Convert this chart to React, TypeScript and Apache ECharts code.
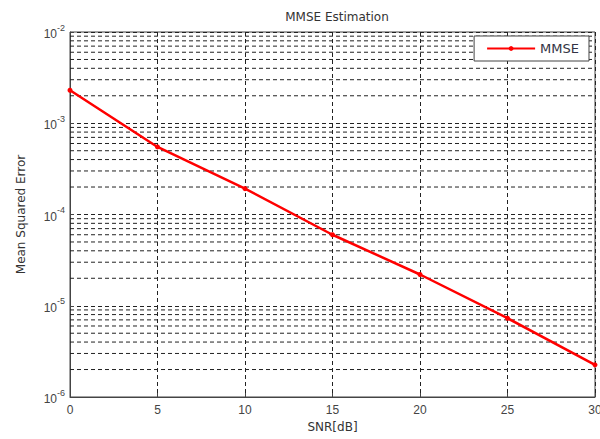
import React, { useEffect, useRef } from "react";
import * as echarts from "echarts";

const snrDb = [0, 5, 10, 15, 20, 25, 30];
const mmseValues = [2.3e-3, 5.5e-4, 1.92e-4, 6.0e-5, 2.2e-5, 7.3e-6, 2.25e-6];
const xTicks = [0, 5, 10, 15, 20, 25, 30];
const decades = [-6, -5, -4, -3];
const minorMultipliers = [2, 3, 4, 5, 6, 7, 8, 9];

const titleText = "MMSE Estimation";
const xName = "SNR[dB]";
const yName = "Mean Squared Error";
const seriesName = "MMSE";

export default function App() {
  const ref = useRef<HTMLDivElement>(null);
  useEffect(() => {
    if (!ref.current) return;
    const chart = echarts.init(ref.current, undefined, { renderer: "svg" });
    const minorValues: number[] = [];
    decades.forEach((d) => {
      minorMultipliers.forEach((m) => {
        minorValues.push(m * Math.pow(10, d));
      });
    });
    const gridDash = { color: "#222", width: 1, type: [4, 3] as any };
    const textFont = "DejaVu Sans";
    const minorSeries = minorValues.map((v, i) => ({
      name: "minor" + i,
      type: "line",
      data: [
        [xTicks[0], v],
        [xTicks[xTicks.length - 1], v],
      ],
      symbol: "none",
      silent: true,
      lineStyle: { color: "#222", width: 1, type: [4, 3] as any },
      z: 1,
      tooltip: { show: false },
    }));
    chart.setOption({
      animation: false,
      backgroundColor: "#fff",
      title: {
        text: titleText,
        left: 332,
        top: 6,
        textAlign: "center",
        textStyle: { fontFamily: textFont, fontSize: 12, fontWeight: "normal", color: "#333" },
      },
      legend: {
        right: 11,
        top: 36,
        orient: "horizontal",
        data: [seriesName],
        itemWidth: 48,
        itemHeight: 6,
        itemGap: 10,
        padding: [6, 10, 6, 12],
        borderColor: "#444",
        borderWidth: 1,
        backgroundColor: "#fff",
        textStyle: { fontFamily: textFont, fontSize: 13, color: "#334" },
      },
      grid: {
        left: 70,
        right: 5,
        top: 32,
        bottom: 42,
        show: true,
        borderColor: "#444",
        borderWidth: 1,
        outerBoundsMode: "none",
        containLabel: false,
      },
      xAxis: {
        type: "value",
        min: 0,
        max: 30,
        interval: 5,
        name: xName,
        nameLocation: "middle",
        nameGap: 24,
        nameTextStyle: { fontFamily: textFont, fontSize: 12, color: "#333" },
        axisLine: { show: true, onZero: false, lineStyle: { color: "#444", width: 1 } },
        axisTick: { show: true, inside: true, length: 4, lineStyle: { color: "#444" } },
        axisLabel: {
          fontFamily: "Liberation Sans",
          fontSize: 12,
          color: "#444",
          margin: 7,
          formatter: (v: number) => (xTicks.includes(v) ? String(v) : ""),
        },
        splitLine: { show: true, lineStyle: gridDash },
      },
      yAxis: {
        type: "log",
        logBase: 10,
        min: 1e-6,
        max: 1e-2,
        name: yName,
        nameLocation: "middle",
        nameGap: 43,
        nameTextStyle: { fontFamily: textFont, fontSize: 12, color: "#333" },
        axisLine: { show: true, lineStyle: { color: "#444", width: 1 } },
        axisTick: { show: true, inside: true, length: 4, lineStyle: { color: "#444" } },
        axisLabel: {
          margin: 5,
          formatter: (v: number) => {
            const e = Math.round(Math.log10(v));
            return "{b|10}{s|" + e + "}";
          },
          rich: {
            b: { fontFamily: "Liberation Sans", fontSize: 12, color: "#444", padding: [4, 0, 0, 0] },
            s: { fontFamily: "Liberation Sans", fontSize: 9, color: "#444", padding: [0, 0, 9, 0] },
          },
        },
        splitLine: { show: true, lineStyle: gridDash },
      },
      series: [
        ...minorSeries,
        {
          name: seriesName,
          type: "line",
          data: snrDb.map((x, i) => [x, mmseValues[i]]),
          symbol: "circle",
          symbolSize: 5,
          showSymbol: true,
          lineStyle: { color: "#ff0000", width: 2.5 },
          itemStyle: { color: "#ff0000" },
          z: 5,
        },
      ],
    });
    return () => chart.dispose();
  }, []);
  return (
    <div
      ref={ref}
      style={{ position: "absolute", left: 0, top: 0, width: 600, height: 439 }}
    />
  );
}
